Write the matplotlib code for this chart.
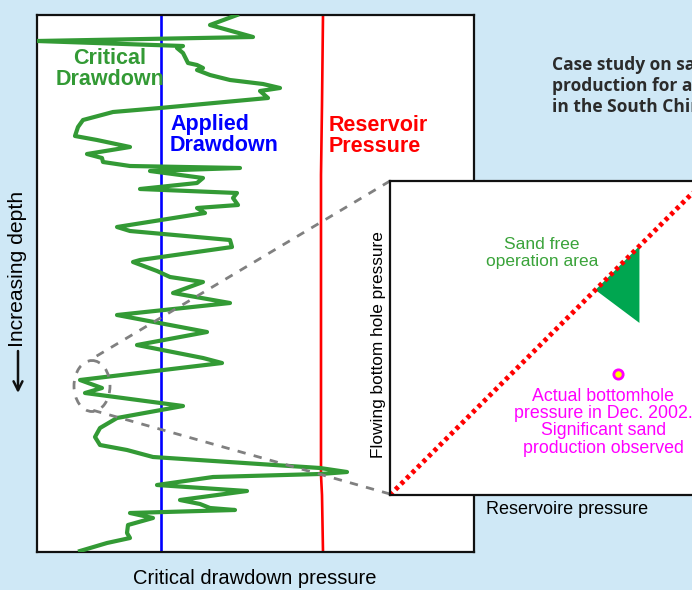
import numpy as np
import matplotlib
matplotlib.use("Agg")
import matplotlib.pyplot as plt
from matplotlib.patches import Ellipse, Polygon

plt.rcParams['font.family'] = ['Liberation Sans', 'DejaVu Sans']

# critical drawdown log (pressure a.u., depth a.u.)
crit_p = [200, 173, 216, 0, 146, 140, 146, 151, 160, 166, 160, 173, 193, 226, 243, 223, 231,
          123, 76, 46, 41, 38, 60, 93, 50, 65, 66, 93, 203, 113, 166, 160, 103, 200, 196, 201,
          160, 168, 80, 93, 193, 195, 103, 96, 120, 133, 166, 136, 193, 80, 170, 100, 166, 185,
          43, 65, 48, 146, 80, 63, 58, 63, 90, 116, 283, 310, 283, 176, 120, 210, 143, 163, 173,
          198, 93, 116, 91, 90, 93, 70, 43]
crit_d = [0, 10, 22, 26, 31, 33, 38, 48, 50, 53, 55, 60, 65, 69, 73, 76, 83,
          93, 97, 105, 112, 121, 125, 132, 139, 143, 147, 151, 153, 156, 163, 168, 174, 178, 183, 190,
          193, 198, 212, 216, 225, 232, 245, 247, 256, 262, 267, 278, 288, 300, 317, 330, 343, 348,
          365, 373, 378, 391, 403, 413, 422, 430, 435, 442, 453, 457, 459, 462, 470, 476, 485, 489, 493,
          495, 498, 503, 510, 518, 523, 528, 536]

applied_p = 124
res_p = [286, 285, 284, 284, 285, 286]
res_d = [0, 90, 160, 460, 480, 537]

# inset: flowing bottom hole pressure vs reservoir pressure
tri_x = [0.653, 0.793, 0.793]
tri_y = [0.653, 0.793, 0.548]
actual_x = 0.726
actual_y = 0.385

fig = plt.figure(figsize=(6.92, 5.90), dpi=100)
fig.patch.set_facecolor('#cfe8f6')

ax = fig.add_axes([37/692, 38/590, 437/692, 537/590])
ax.set_xlim(0, 437)
ax.set_ylim(537, 0)
ax.set_xticks([])
ax.set_yticks([])
for s in ax.spines.values():
    s.set_linewidth(1.6)
    s.set_color('#111111')

ax.plot(crit_p, crit_d, color='#339a35', lw=3.0, solid_joinstyle='round', zorder=3)
ax.axvline(applied_p, color='#0000ff', lw=1.9, zorder=2)
ax.plot(res_p, res_d, color='#ff0000', lw=1.9, zorder=2)

ax.text(73, 54, 'Critical\nDrawdown', color='#339a35', fontsize=15.5, fontweight='bold',
        ha='center', va='center', linespacing=0.95)
ax.text(133, 120, 'Applied\nDrawdown', color='#0000ff', fontsize=15.5, fontweight='bold',
        ha='left', va='center', linespacing=0.95)
ax.text(292, 121, 'Reservoir\nPressure', color='#ff0000', fontsize=15.5, fontweight='bold',
        ha='left', va='center', linespacing=0.95)

# zoom marker
ax.add_patch(Ellipse((55, 371), 36, 51, fill=False, ls=(0, (3, 3)), lw=2, ec='#808080', zorder=4))
ax.plot([353, 53], [166, 345], ls=(0, (3, 3)), lw=2, color='#808080', zorder=4)
ax.plot([353, 55], [479, 395], ls=(0, (3, 3)), lw=2, color='#808080', zorder=4)

# inset
ins = fig.add_axes([390/692, 95/590, 0.5, 314/590])
ins.set_xlim(0, 1.1)
ins.set_ylim(0, 1)
ins.set_xticks([])
ins.set_yticks([])
for s in ins.spines.values():
    s.set_linewidth(1.6)
    s.set_color('#111111')
ins.plot([0, 1.1], [0, 1.1], color='#ff0000', lw=3.5, ls=(0, (0.8, 0.8)))
ins.add_patch(Polygon(np.column_stack([tri_x, tri_y]), closed=True, color='#00a650', lw=0))
ins.scatter([actual_x], [actual_y], s=45, color='#ffff00', edgecolors='#ff00ff', linewidths=2, zorder=5)
ins.text(0.484, 0.771, 'Sand free\noperation area', color='#3aa33a', fontsize=12.5,
         ha='center', va='center', linespacing=1.1)
ins.text(0.678, 0.232, 'Actual bottomhole\npressure in Dec. 2002.\nSignificant sand\nproduction observed',
         color='#ff00ff', fontsize=12.8, ha='center', va='center', linespacing=1.02)

fig.text(378/692, 1 - 345/590, 'Flowing bottom hole pressure', rotation=90, fontsize=12.4,
         ha='center', va='center')
fig.text(486/692, 1 - 509/590, 'Reservoire pressure', fontsize=13, ha='left', va='center')
fig.text(255/692, 1 - 578/590, 'Critical drawdown pressure', fontsize=14.5, ha='center', va='center')
fig.text(18/692, 1 - 269/590, 'Increasing depth', rotation=90, fontsize=15.2,
         ha='center', va='center')
fig.add_artist(plt.Annotation('', xy=(18/692, 1 - 393/590), xytext=(18/692, 1 - 351/590),
                              xycoords='figure fraction', textcoords='figure fraction',
                              arrowprops=dict(arrowstyle='->', lw=1.8, color='#111111',
                                              mutation_scale=16, shrinkA=0, shrinkB=0)))
fig.text(552/692, 1 - 56/590, 'Case study on sand\nproduction for a gas field\nin the South China Sea',
         fontsize=12.5, fontweight='bold', color='#2b2b2b', ha='left', va='top',
         family=['Open Sans', 'DejaVu Sans'], linespacing=1.2)

fig.savefig('out.png', dpi=100)
